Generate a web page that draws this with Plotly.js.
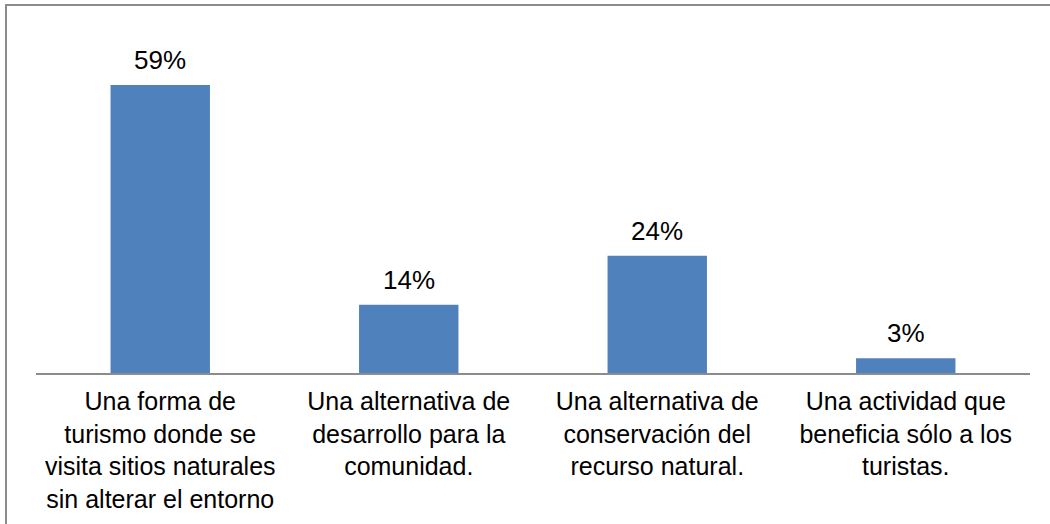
<!DOCTYPE html>
<html>
<head>
<meta charset="utf-8">
<script src="https://cdn.plot.ly/plotly-3.0.1.min.js"></script>
<style>
html,body{margin:0;padding:0;width:1050px;height:524px;overflow:hidden;background:#fff;}
#frame{position:absolute;left:5px;top:4px;width:1100px;height:600px;border:2px solid #8c8c8c;pointer-events:none;z-index:2;}
#chart{position:absolute;left:0;top:0;width:1050px;height:524px;}
</style>
</head>
<body>
<div id="chart"></div>
<div id="frame"></div>
<script>
var categories = ["c1","c2","c3","c4"];
var tickLabels = [
  "Una forma de<br>turismo donde se<br>visita sitios naturales<br>sin alterar el entorno",
  "Una alternativa de<br>desarrollo para la<br>comunidad.",
  "Una alternativa de<br>conservación del<br>recurso natural.",
  "Una actividad que<br>beneficia sólo a los<br>turistas."
];
var values = [0.59, 0.14, 0.24, 0.03];
var valueLabels = ["59%", "14%", "24%", "3%"];

var trace = {
  type: "bar",
  x: categories,
  y: values,
  marker: {color: "#4f81bd"},
  hoverinfo: "none"
};

var annotations = categories.map(function(c, i){
  return {x: c, y: values[i], xref: "x", yref: "y", text: valueLabels[i],
    showarrow: false, yanchor: "bottom", yshift: 8,
    font: {family: "Liberation Sans, Arial, sans-serif", size: 26, color: "#000"}};
});

var layout = {
  width: 1050, height: 524,
  margin: {l: 36, r: 20, t: 80, b: 151},
  paper_bgcolor: "rgba(0,0,0,0)",
  plot_bgcolor: "rgba(0,0,0,0)",
  bargap: 0.6,
  showlegend: false,
  font: {family: "Liberation Sans, Arial, sans-serif", size: 25, color: "#000"},
  xaxis: {
    type: "category",
    tickvals: categories,
    ticktext: tickLabels,
    showline: true, linecolor: "#8c8c8c", linewidth: 2,
    ticks: "", showgrid: false, zeroline: false,
    tickfont: {family: "Liberation Sans, Arial, sans-serif", size: 25, color: "#000"},
    ticklabelstandoff: 5
  },
  yaxis: {
    range: [0, 0.6], visible: false, showgrid: false, zeroline: false
  },
  annotations: annotations
};

Plotly.newPlot("chart", [trace], layout, {staticPlot: true, displayModeBar: false});
</script>
</body>
</html>
